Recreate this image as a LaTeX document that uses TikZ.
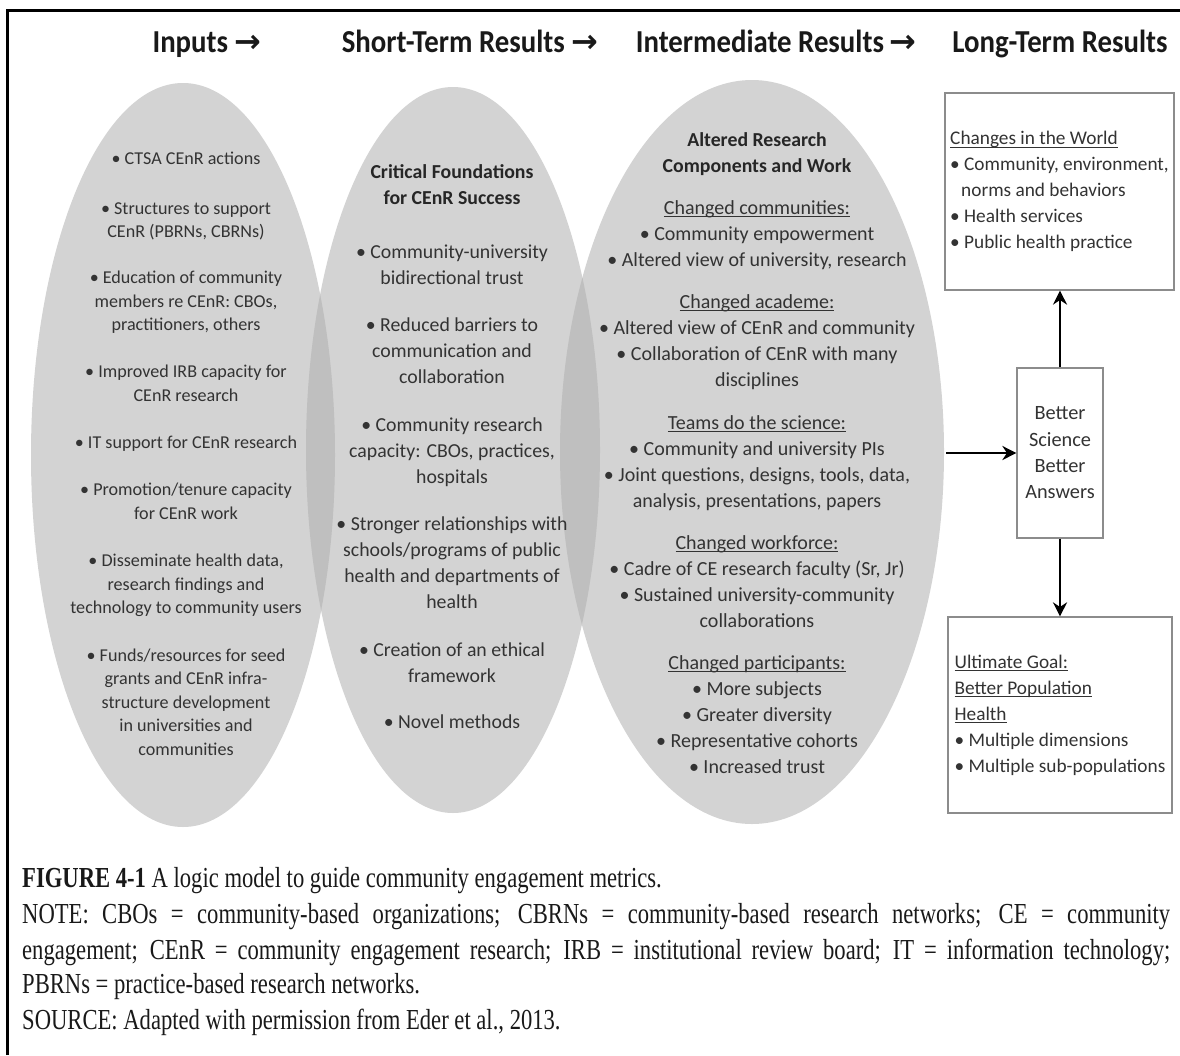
\documentclass[tikz,border=0pt]{standalone}
\usepackage{fontspec}
\setmainfont{Carlito}
\newfontfamily\capfont[FakeStretch=0.78]{Liberation Serif}
\newfontfamily\arrfont{DejaVu Sans}
\newfontfamily\headfont[FakeStretch=0.9]{Carlito}
\newcommand\myul[1]{\setbox0\hbox{#1}\leavevmode\rlap{\rule[-3pt]{\wd0}{1pt}}\box0}
\usetikzlibrary{arrows.meta}
\definecolor{ellgray}{HTML}{D3D3D3}
\definecolor{ovgray}{HTML}{BFBFBF}
\definecolor{txt}{HTML}{333333}
\definecolor{boxgray}{HTML}{8C8C8C}
\begin{document}
\begin{tikzpicture}[x=1pt,y=-1pt,
  ell/.style={fill=ellgray},
  etext/.style={anchor=north, inner sep=0pt, align=center, text=txt},
  head/.style={anchor=base, inner sep=0pt, font=\headfont\bfseries\fontsize{32}{34}\selectfont, text=black!90},
  box/.style={draw=boxgray, line width=1.2pt, inner sep=0pt, text=txt, font=\fontsize{19.3}{26}\selectfont},
  arr/.style={line width=2.8pt, -{Stealth[length=14pt,width=14pt]}},
  capline/.style={anchor=base west, inner sep=0pt, font=\capfont\fontsize{29}{35}\selectfont, text=black!90}
]
\fill[white] (0,0) rectangle (1180,1055);
\useasboundingbox (0,0) rectangle (1180,1055);
\draw[line width=3pt] (7,1055) -- (7,10) -- (1180,10);

% ellipses
\fill[ell] (183,455) ellipse [x radius=152pt, y radius=372pt];
\fill[ell] (453,450) ellipse [x radius=147pt, y radius=363pt];
\fill[ell] (752,452) ellipse [x radius=192pt, y radius=372pt];
\begin{scope}
  \clip (183,455) ellipse [x radius=152pt, y radius=372pt];
  \fill[ovgray] (453,450) ellipse [x radius=147pt, y radius=363pt];
\end{scope}
\begin{scope}
  \clip (453,450) ellipse [x radius=147pt, y radius=363pt];
  \fill[ovgray] (752,452) ellipse [x radius=192pt, y radius=372pt];
\end{scope}

% headings
\node[head] (h1) at (207,52) {Inputs {\arrfont\bfseries →}};
\node[head] (h2) at (470,52) {Short-Term Results {\arrfont\bfseries →}};
\node[head] (h3) at (776,52) {Intermediate Results\,{\arrfont\bfseries →}};
\node[head] (h4) at (1060,52) {Long-Term Results};

% ellipse texts
\node[etext, font=\fontsize{18.1}{23.5}\selectfont] (t1) at (186,147.5) {\strut• CTSA CEnR actions\\[26.5pt]
• Structures to support\\
CEnR (PBRNs, CBRNs)\\[22.5pt]
• Education of community\\
members re CEnR: CBOs,\\
practitioners, others\\[23.5pt]
• Improved IRB capacity for\\
CEnR research\\[24pt]
• IT support for CEnR research\\[23.5pt]
• Promotion/tenure capacity\\
for CEnR work\\[24pt]
• Disseminate health data,\\
research findings and\\
technology to community users\\[24pt]
• Funds/resources for seed\\
grants and CEnR infra-\\
structure development\\
in universities and\\
communities};

\node[etext, font=\fontsize{19.8}{26}\selectfont] (t2) at (452,159.8) {\textbf{\color{black!85}\strut Critical Foundations}\\
\textbf{\color{black!85}for CEnR Success}\\[28pt]
• Community-university\\
bidirectional trust\\[21pt]
• Reduced barriers to\\
communication and\\
collaboration\\[22pt]
• Community research\\
capacity: CBOs, practices,\\
hospitals\\[21pt]
• Stronger relationships with\\
schools/programs of public\\
health and departments of\\
health\\[22pt]
• Creation of an ethical\\
framework\\[20pt]
• Novel methods};

\node[etext, font=\fontsize{20}{26}\selectfont] (t3) at (757,127.8) {{\fontsize{19.8}{26}\selectfont\textbf{\color{black!85}\strut Altered Research}}\\
{\fontsize{19.8}{26}\selectfont\textbf{\color{black!85}Components and Work}}\\[16pt]
\myul{Changed communities:}\\
• Community empowerment\\
• Altered view of university, research\\[16pt]
\myul{Changed academe:}\\
• Altered view of CEnR and community\\
• Collaboration of CEnR with many\\
disciplines\\[17pt]
\myul{Teams do the science:}\\
• Community and university PIs\\
• Joint questions, designs, tools, data,\\
analysis, presentations, papers\\[16pt]
\myul{Changed workforce:}\\
• Cadre of CE research faculty (Sr, Jr)\\
• Sustained university-community\\
collaborations\\[16pt]
\myul{Changed participants:}\\
• More subjects\\
• Greater diversity\\
• Representative cohorts\\
• Increased trust};

% boxes
\node[box, minimum width=229pt, minimum height=197pt, align=left] (world) at (1059.5,191.5)
  {\myul{Changes in the World}\\ • Community, environment,\\ \hspace*{11pt}norms and behaviors\\ • Health services\\ • Public health practice};
\node[box, minimum width=86pt, minimum height=170pt, align=center, font=\fontsize{20.3}{26.3}\selectfont] (sci) at (1060,453)
  {Better\\ Science\\ Better\\ Answers};
\node[box, minimum width=224pt, minimum height=196pt, align=left] (goal) at (1060,715)
  {\myul{Ultimate Goal:}\\ \myul{Better Population}\\ \myul{Health}\\ • Multiple dimensions\\ • Multiple sub-populations};

% arrows
\coordinate (e3e) at (946,453);
\draw[arr] (e3e) -- (sci.west);
\draw[arr] (sci.north) -- (sci.north |- world.south);
\draw[arr] (sci.south) -- (sci.south |- goal.north);

% caption
\node[capline] (c1) at (22,887) {\textbf{FIGURE 4-1} A logic model to guide community engagement metrics.};
\node[capline] (c2) at (22,923) {\makebox[1148pt][s]{NOTE: CBOs = community-based organizations; CBRNs = community-based research networks; CE = community}};
\node[capline] (c3) at (22,959) {\makebox[1148pt][s]{engagement; CEnR = community engagement research; IRB = institutional review board; IT = information technology;}};
\node[capline] (c4) at (22,993) {PBRNs = practice-based research networks.};
\node[capline] (c5) at (22,1029) {SOURCE: Adapted with permission from Eder et al., 2013.};
\end{tikzpicture}
\end{document}
